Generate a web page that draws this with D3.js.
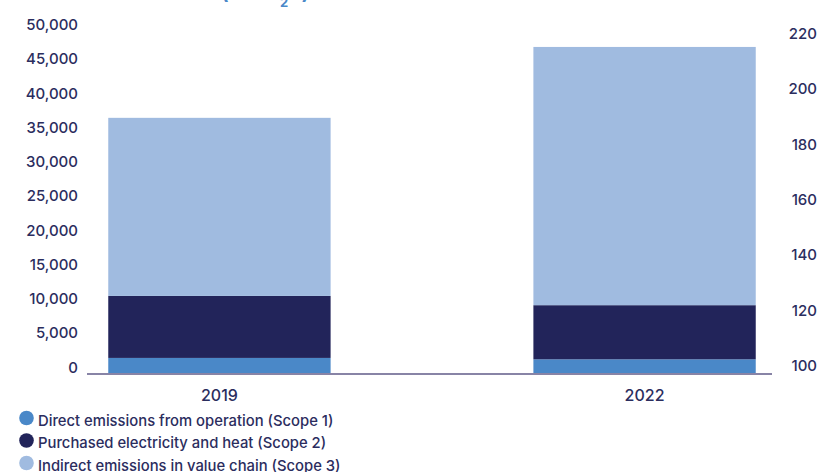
<!DOCTYPE html>
<html>
<head>
<meta charset="utf-8">
<script src="https://cdn.jsdelivr.net/npm/d3@7"></script>
<style>
  html, body { margin: 0; padding: 0; background: #fff; }
  svg { display: block; font-family: Inter, "Noto Sans", sans-serif; }
</style>
</head>
<body>
<svg id="chart" width="818" height="472"></svg>
<script>
// ---- data ----
const years = ["2019", "2022"];
const scope1 = [2200, 2000];
const scope2 = [9050, 7900];
const scope3 = [26000, 37700];
const seriesNames = [
  "Direct emissions from operation (Scope 1)",
  "Purchased electricity and heat (Scope 2)",
  "Indirect emissions in value chain (Scope 3)"
];
const leftTicks = [0, 5000, 10000, 15000, 20000, 25000, 30000, 35000, 40000, 45000, 50000];
const rightTicks = [100, 120, 140, 160, 180, 200, 220];

// ---- styles ----
const colors = ["#4a88c8", "#22245a", "#a0bbe0"];
const textColor = "#2b2d5e";

const svg = d3.select("#chart");

const x = d3.scaleBand().domain(years).range([87, 777]).paddingInner(0.477).paddingOuter(0.05);
const y = d3.scaleLinear().domain([0, 50000]).range([373, 30.5]);
const yR = d3.scaleLinear().domain([100, 220]).range([371.5, 39.5]);

// stacked data
const rows = years.map((yr, i) => ({ year: yr, s1: scope1[i], s2: scope2[i], s3: scope3[i] }));
const stack = d3.stack().keys(["s1", "s2", "s3"])(rows);

svg.append("g").selectAll("g")
  .data(stack).join("g")
  .attr("fill", (d, i) => colors[i])
  .selectAll("rect")
  .data(d => d).join("rect")
  .attr("x", d => x(d.data.year))
  .attr("width", x.bandwidth())
  .attr("y", d => y(d[1]))
  .attr("height", d => y(d[0]) - y(d[1]));

// x axis line
svg.append("line")
  .attr("x1", 87).attr("x2", 772)
  .attr("y1", 374).attr("y2", 374)
  .attr("stroke", "#8884a6").attr("stroke-width", 2);

// left axis
const gL = svg.append("g").attr("transform", "translate(78,0)")
  .call(d3.axisLeft(y).tickValues(leftTicks).tickFormat(d3.format(",")).tickSize(0).tickPadding(0));
gL.select(".domain").remove();
gL.selectAll("text").attr("dy", -1).attr("fill", textColor)
  .style("font-size", "15px").style("font-weight", 500).style("font-family", "Inter, sans-serif");

// right axis
const gR = svg.append("g").attr("transform", "translate(817,0)")
  .call(d3.axisLeft(yR).tickValues(rightTicks).tickSize(0).tickPadding(0));
gR.select(".domain").remove();
gR.selectAll("text").attr("dy", -1).attr("fill", textColor)
  .style("font-size", "15px").style("font-weight", 500).style("font-family", "Inter, sans-serif");

// x labels
const gX = svg.append("g").attr("transform", "translate(0,401)")
  .call(d3.axisBottom(x).tickSize(0).tickPadding(0));
gX.select(".domain").remove();
gX.selectAll("text").attr("dy", 0).attr("y", 0).attr("fill", textColor)
  .style("font-size", "16px").style("font-weight", 500).style("font-family", "Inter, sans-serif");

// cropped title fragment at top
const t = svg.append("text")
  .attr("y", -1)
  .attr("fill", "#4a88c8")
  .style("font-size", "20px").style("font-weight", 700);
t.append("tspan").attr("x", 221).text("(t CO");
t.append("tspan").attr("x", 280).attr("y", 7).style("font-size", "13px").text("2");
t.append("tspan").attr("x", 290).attr("y", -1).text("e)");

// legend
const leg = svg.append("g").selectAll("g")
  .data(seriesNames).join("g")
  .attr("transform", (d, i) => `translate(0,${418 + i * 22.5})`);
leg.append("circle").attr("cx", 26.5).attr("cy", 0).attr("r", 7.3)
  .attr("fill", (d, i) => colors[i]);
leg.append("text").attr("x", 38).attr("y", 7.5)
  .attr("fill", textColor)
  .style("font-size", "14.8px").style("font-weight", 500)
  .text(d => d);
</script>
</body>
</html>
